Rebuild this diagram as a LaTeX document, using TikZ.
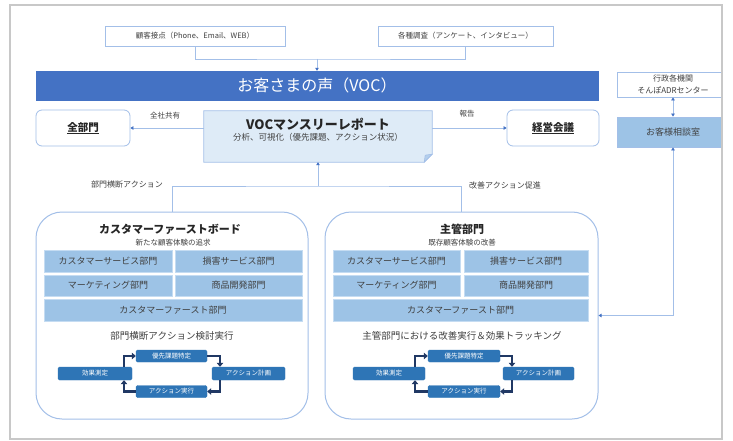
\documentclass[tikz,border=0pt]{standalone}
\usepackage{fontspec}
\setmainfont{Noto Sans CJK JP}
\usetikzlibrary{arrows.meta}
\definecolor{vocblue}{HTML}{4472C4}
\definecolor{lineblue}{HTML}{A3BFE8}
\definecolor{cellblue}{HTML}{9DC3E6}
\definecolor{celledge}{HTML}{C5DCF2}
\definecolor{reportfill}{HTML}{DEEBF7}
\definecolor{foldfill}{HTML}{B4CFEC}
\definecolor{cycblue}{HTML}{2E75B6}
\definecolor{cycarrow}{HTML}{203864}
\definecolor{txt}{HTML}{404040}
\definecolor{framegray}{HTML}{C8C8C8}
\begin{document}
\begin{tikzpicture}[x=1pt,y=-1pt,
  fs/.style={font=\fontsize{#1}{#1}\selectfont},
  fsb/.style={font=\fontsize{#1}{#1}\selectfont\bfseries},
  wbox/.style={draw=lineblue, fill=white, line width=0.8pt, inner sep=0pt, text=txt},
  rbox/.style={wbox, rounded corners=6pt},
  cell/.style={draw=celledge, fill=cellblue, line width=0.8pt, inner sep=0pt, text=txt, fs=9},
  cyc/.style={fill=cycblue, draw=cycblue, rounded corners=1.5pt, text=white, inner sep=0pt, fs=6.5},
  cycarr/.style={draw=cycarrow, line width=2.2pt, -{Triangle[length=4pt,width=6.5pt]}},
  conn/.style={draw=lineblue, line width=0.9pt},
  arr/.style={conn, -{Triangle[length=3pt,width=3.5pt,color=vocblue]}},
  darr/.style={conn, {Triangle[length=3pt,width=3.5pt,color=vocblue]}-{Triangle[length=3pt,width=3.5pt,color=vocblue]}},
  lab/.style={text=txt, fs=7.5, inner sep=0pt},
  bigbox/.style={draw=lineblue, fill=white, line width=1pt, rounded corners=26pt, inner sep=0pt}
]
\useasboundingbox (0,0) rectangle (733,441);
\fill[white] (0,0) rectangle (733,441);
\begin{scope}
\clip (11,6) rectangle (721,438);

% top sources
\node[wbox, fs=7.5, minimum width=180pt, minimum height=20pt] (top1) at (195,36) {顧客接点（Phone、Email、WEB）};
\node[wbox, fs=7.5, minimum width=175pt, minimum height=20pt] (top2) at (465.5,36) {各種調査（アンケート、インタビュー）};

% VOC bar
\node[fill=vocblue, draw=vocblue, text=white, fs=16, inner sep=0pt, minimum width=562pt, minimum height=29pt] (voc) at (317,85.5) {お客さまの声（VOC）};
\coordinate (tj) at (317,59);
\draw[conn] (top1.south) |- (tj) -| (top2.south);
\draw[arr] (tj) -- (voc.north);

% side boxes
\node[rbox, fsb=10.5, text=black!85, minimum width=94pt, minimum height=36pt] (zenbu) at (83,128) {\underline{全部門}};
\node[rbox, fsb=10.5, text=black!85, minimum width=92pt, minimum height=36pt] (keiei) at (553,128) {\underline{経営会議}};

% report (folded corner)
\node[inner sep=0pt, minimum width=228pt, minimum height=51pt] (report) at (318,136.5) {};
\filldraw[fill=reportfill, draw=lineblue, line width=0.8pt]
  (report.north west) -- (report.north east) -- ([yshift=8pt]report.south east)
  -- ([xshift=-8pt]report.south east) -- (report.south west) -- cycle;
\filldraw[fill=foldfill, draw=lineblue, line width=0.6pt]
  ([yshift=8pt]report.south east) -- ([xshift=-8pt]report.south east) -- ([xshift=-7pt,yshift=7pt]report.south east) -- cycle;
\node[fsb=13, text=black!85, inner sep=0pt] (rtitle) at (318,124) {VOCマンスリーレポート};
\node[fs=8.5, text=txt, inner sep=0pt] (rsub) at (318,137.5) {分析、可視化（優先課題、アクション状況）};

\draw[arr] (report.west |- zenbu.east) -- (zenbu.east);
\draw[arr] (report.east |- keiei.west) -- (keiei.west);
\node[lab] (l1) at (165,116) {全社共有};
\node[lab] (l2) at (467,114) {報告};

% big boxes
\node[bigbox, minimum width=272pt, minimum height=207pt] (leftbig) at (172,315.5) {};
\node[bigbox, minimum width=273pt, minimum height=207pt] (rightbig) at (461.5,315.5) {};

\coordinate (bj) at (318,186);
\draw[conn] (leftbig.north) |- (bj) -| (rightbig.north);
\draw[arr] (bj) -- (report.south);
\node[lab, fs=8] (l3) at (127,184) {部門横断アクション};
\node[lab, fs=8] (l4) at (505,185) {改善アクション促進};

% left box content
\node[fsb=11, text=black!85, inner sep=0pt] (ltitle) at (170,229) {カスタマーファーストボード};
\node[lab, fs=7.5] (lsub) at (173,243) {新たな顧客体験の追求};
\node[cell, minimum width=128pt, minimum height=22pt] (lc1) at (108,261) {カスタマーサービス部門};
\node[cell, minimum width=127pt, minimum height=22pt] (lc2) at (238.5,261) {損害サービス部門};
\node[cell, minimum width=128pt, minimum height=21pt] (lc3) at (108,285.5) {マーケティング部門};
\node[cell, minimum width=127pt, minimum height=21pt] (lc4) at (238.5,285.5) {商品開発部門};
\node[cell, minimum width=258pt, minimum height=22pt] (lc5) at (173,310) {カスタマーファースト部門};
\node[lab, fs=9.5] (lbot) at (172,336) {部門横断アクション検討実行};

\node[cyc, minimum width=71pt, minimum height=12pt] (lyu) at (171.5,356) {優先課題特定};
\node[cyc, minimum width=74pt, minimum height=13pt] (lkouka) at (95,373.5) {効果測定};
\node[cyc, minimum width=73pt, minimum height=13pt] (lkei) at (248.5,373.5) {アクション計画};
\node[cyc, minimum width=71pt, minimum height=12pt] (ljik) at (171.5,391.5) {アクション実行};
\coordinate (lxl) at (124,0);
\coordinate (lxr) at (220,0);
\draw[cycarr] (lkouka.north -| lxl) |- (lyu.west);
\draw[cycarr] (lyu.east) -| (lkei.north -| lxr);
\draw[cycarr] (lkei.south -| lxr) |- (ljik.east);
\draw[cycarr] (ljik.west) -| (lkouka.south -| lxl);

% right box content
\node[fsb=11, text=black!85, inner sep=0pt] (rtitle2) at (462,229) {主管部門};
\node[lab, fs=7.5] (rsub2) at (462,243) {既存顧客体験の改善};
\node[cell, minimum width=127pt, minimum height=22pt] (rc1) at (396.5,261) {カスタマーサービス部門};
\node[cell, minimum width=124pt, minimum height=22pt] (rc2) at (526,261) {損害サービス部門};
\node[cell, minimum width=127pt, minimum height=21pt] (rc3) at (396.5,285.5) {マーケティング部門};
\node[cell, minimum width=124pt, minimum height=21pt] (rc4) at (526,285.5) {商品開発部門};
\node[cell, minimum width=255pt, minimum height=22pt] (rc5) at (460.5,310) {カスタマーファースト部門};
\node[lab, fs=9.5] (rbot) at (462,336) {主管部門における改善実行＆効果トラッキング};

\node[cyc, minimum width=72pt, minimum height=12pt] (ryu) at (464,356) {優先課題特定};
\node[cyc, minimum width=72pt, minimum height=13pt] (rkouka) at (389,373.5) {効果測定};
\node[cyc, minimum width=71pt, minimum height=13pt] (rkei) at (538.5,373.5) {アクション計画};
\node[cyc, minimum width=72pt, minimum height=12pt] (rjik) at (464,391.5) {アクション実行};
\coordinate (rxl) at (415,0);
\coordinate (rxr) at (512,0);
\draw[cycarr] (rkouka.north -| rxl) |- (ryu.west);
\draw[cycarr] (ryu.east) -| (rkei.north -| rxr);
\draw[cycarr] (rkei.south -| rxr) |- (rjik.east);
\draw[cycarr] (rjik.west) -| (rkouka.south -| rxl);

% right side
\node[wbox, font=\fontsize{8}{11.5}\selectfont, align=center, minimum width=112pt, minimum height=25pt] (gyosei) at (673,84.5) {行政各機関\\そんぽADRセンター};
\node[draw=lineblue, fill=cellblue, line width=0.8pt, text=txt, fs=9, inner sep=0pt, minimum width=112pt, minimum height=30pt] (soudan) at (673,132) {お客様相談室};
\draw[darr] (gyosei.south) -- (soudan.north);
\draw[darr] (soudan.south) |- (rightbig.east);
\end{scope}

% outer frame
\draw[framegray, line width=1.5pt] (10,5) rectangle (722,439);
\end{tikzpicture}
\end{document}
